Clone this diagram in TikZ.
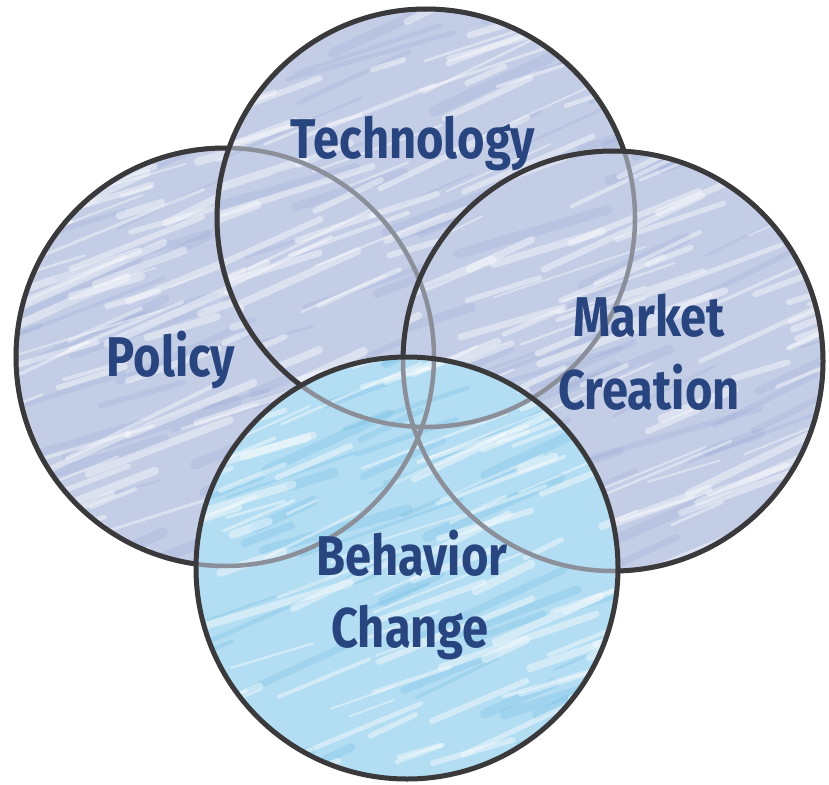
\documentclass[tikz,border=0pt]{standalone}
\usepackage{fontspec}
\newfontfamily\handfont[FakeStretch=0.84]{Fira Sans}
\definecolor{ink}{HTML}{284580}
\definecolor{rim}{HTML}{3A3A3C}
\definecolor{faded}{HTML}{8A8F9A}
\definecolor{slate}{HTML}{C3CDE6}
\definecolor{slatedark}{HTML}{8CA0D0}
\definecolor{sky}{HTML}{B2DDF2}
\definecolor{skydark}{HTML}{58B1DE}
\tikzset{
  rimline/.style={draw=rim, line width=5pt},
  fadedline/.style={draw=faded, line width=4.5pt},
  label/.style={font=\handfont\bfseries\fontsize{56}{72}\selectfont, text=ink, anchor=base, inner sep=0pt}
}
\newcommand\crayonfill[4]{% center, radius, base colour, streak colour
  \fill[#3] #1 circle[radius=#2];
  \begin{scope}[shift={#1}]
    \clip (0,0) circle[radius=#2];
    \foreach \k in {1,...,60}{
      \pgfmathsetmacro\ax{rnd*2.4*#2-1.3*#2}
      \pgfmathsetmacro\ay{rnd*2.4*#2-1.1*#2}
      \pgfmathsetmacro\ln{40+rnd*140}
      \pgfmathsetmacro\sl{0.28+rnd*0.22}
      \pgfmathsetmacro\lw{2+rnd*9}
      \draw[#4, opacity=0.2, line width=\lw pt, line cap=round] (\ax,\ay) -- ++(\ln,-\sl*\ln);
    }
    \foreach \k in {1,...,120}{
      \pgfmathsetmacro\ax{rnd*2.4*#2-1.3*#2}
      \pgfmathsetmacro\ay{rnd*2.4*#2-1.1*#2}
      \pgfmathsetmacro\ln{30+rnd*130}
      \pgfmathsetmacro\sl{0.28+rnd*0.22}
      \pgfmathsetmacro\lw{1.5+rnd*7}
      \draw[white, opacity=0.42, line width=\lw pt, line cap=round] (\ax,\ay) -- ++(\ln,-\sl*\ln);
    }
  \end{scope}}
\begin{document}
\begin{tikzpicture}[x=1pt,y=-1pt]
\pgfmathsetseed{4242}
\useasboundingbox (0,0) rectangle (829,784);
\fill[white] (0,0) rectangle (829,784);
\coordinate (P) at (225,357);
\coordinate (T) at (426,218);
\coordinate (M) at (613,361);
\coordinate (B) at (407,568);
% fills, back to front
\crayonfill{(P)}{209}{slate}{slatedark}
\crayonfill{(T)}{209}{slate}{slatedark}
\crayonfill{(M)}{210}{slate}{slatedark}
\crayonfill{(B)}{211}{sky}{skydark}
% faded rims seen through the fills
\draw[fadedline] (P) circle[radius=209];
\draw[fadedline] (T) circle[radius=209];
\draw[fadedline] (M) circle[radius=210];
% dark rims where not covered
\begin{scope}[even odd rule]
  \clip (0,0) rectangle (829,784) (T) circle[radius=209];
  \clip (0,0) rectangle (829,784) (B) circle[radius=211];
  \draw[rimline] (P) circle[radius=209];
\end{scope}
\begin{scope}[even odd rule]
  \clip (0,0) rectangle (829,784) (M) circle[radius=210];
  \clip (0,0) rectangle (829,784) (B) circle[radius=211];
  \draw[rimline] (T) circle[radius=209];
\end{scope}
\begin{scope}[even odd rule]
  \clip (0,0) rectangle (829,784) (B) circle[radius=211];
  \draw[rimline] (M) circle[radius=210];
\end{scope}
\draw[rimline] (B) circle[radius=211];
% labels
\node[label] (lt) at (413,158) {Technology};
\node[label] (lp) at (171,376) {Policy};
\node[label] (lm1) at (649,336) {Market};
\node[label] (lm2) at (649,409) {Creation};
\node[label] (lb1) at (412,575) {Behavior};
\node[label] (lb2) at (410,647) {Change};
\end{tikzpicture}
\end{document}
